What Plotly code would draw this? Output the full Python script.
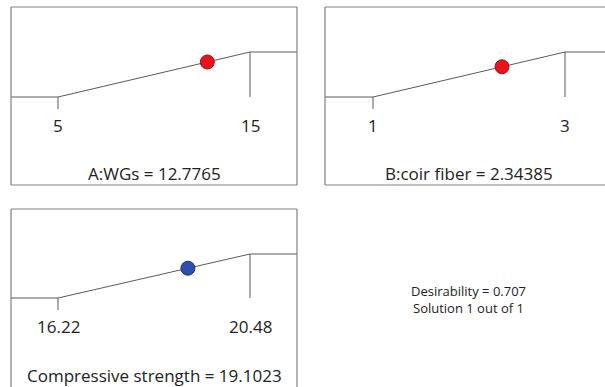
import plotly.graph_objects as go

# ---- data ----
names = ["A:WGs", "B:coir fiber", "Compressive strength"]
lows = [5, 1, 16.22]
highs = [15, 3, 20.48]
optima = [12.7765, 2.34385, 19.1023]
low_labels = ["5", "1", "16.22"]
high_labels = ["15", "3", "20.48"]
opt_labels = ["12.7765", "2.34385", "19.1023"]
dot_colors = ["#e8141c", "#e8141c", "#2f4fae"]
dot_edges = ["#a00d12", "#a00d12", "#1c2f78"]
desirability = "0.707"
solution_text = "Solution 1 out of 1"

W, H = 605, 387
FONT = "Open Sans"

# panel geometry in pixels: (left, right, top, bottom, low_px, high_px, zero_px, one_px)
geom = [
    (11, 297, 7, 185, 58, 250, 97, 52),
    (325, 605, 7, 185, 373, 565, 97, 52),
    (11, 297, 209, 387, 58, 250, 298, 254),
]
# which border sides to draw (top, bottom, left, right)
sides = [
    (True, True, True, True),
    (True, True, True, False),
    (True, False, True, True),
]

fig = go.Figure()
layout = dict(width=W, height=H, margin=dict(l=0, r=0, t=0, b=0),
              paper_bgcolor="white", plot_bgcolor="white", showlegend=False)
shapes = []
annotations = []
LINE = "#5a5a5a"
BOX = "#808080"
TXT = "#222222"

for i in range(3):
    L, R, T, B, lp, hp, zp, op = geom[i]
    lo, hi, opt = lows[i], highs[i], optima[i]
    upx = (hi - lo) / (hp - lp)          # units per pixel (x)
    dpy = 1.0 / (zp - op)                # desirability per pixel (y)
    xr = [lo - (lp - L) * upx, hi + (R - hp) * upx]
    yr = [-(B - zp) * dpy, (zp - T) * dpy]
    ax = "" if i == 0 else str(i + 1)
    xref, yref = "x" + ax, "y" + ax
    layout["xaxis" + ax] = dict(domain=[L / W, R / W], range=xr, visible=False,
                                fixedrange=True, anchor=yref)
    layout["yaxis" + ax] = dict(domain=[1 - B / H, 1 - T / H], range=yr, visible=False,
                                fixedrange=True, anchor=xref)

    d_opt = (opt - lo) / (hi - lo)
    # ramp
    fig.add_trace(go.Scatter(x=[xr[0], lo, hi, xr[1]], y=[0, 0, 1, 1], mode="lines",
                             line=dict(color=LINE, width=1), xaxis=xref, yaxis=yref,
                             hoverinfo="skip"))
    # tick under low and vertical at high
    fig.add_trace(go.Scatter(x=[lo, lo, None, hi, hi], y=[0, -12 * dpy, None, 1, 0],
                             mode="lines", line=dict(color=LINE, width=1),
                             xaxis=xref, yaxis=yref, hoverinfo="skip"))
    # optimum dot
    fig.add_trace(go.Scatter(x=[opt], y=[d_opt], mode="markers",
                             marker=dict(size=14, color=dot_colors[i],
                                         line=dict(color=dot_edges[i], width=1)),
                             xaxis=xref, yaxis=yref))
    # labels
    ylab = -((125 - 97) if i < 2 else (326 - 298)) * dpy
    for xv, txt in [(lo, low_labels[i]), (hi, high_labels[i])]:
        annotations.append(dict(x=xv, y=ylab, xref=xref, yref=yref, text=txt,
                                showarrow=False, font=dict(family=FONT, size=17, color=TXT),
                                xanchor="center", yanchor="middle"))
    ytitle = -((173 - 97) if i < 2 else (375 - 298)) * dpy
    annotations.append(dict(x=(lo + hi) / 2, y=ytitle, xref=xref, yref=yref,
                            text=f"{names[i]} = {opt_labels[i]}", showarrow=False,
                            font=dict(family=FONT, size=17, color=TXT),
                            xanchor="center", yanchor="middle"))
    # box
    st, sb, sl, sr = sides[i]
    dref = xref + " domain"
    yd = yref + " domain"
    bc = dict(color=BOX, width=1.2)
    if st:
        shapes.append(dict(type="line", xref=dref, yref=yd, x0=0, x1=1, y0=1, y1=1, line=bc))
    if sb:
        shapes.append(dict(type="line", xref=dref, yref=yd, x0=0, x1=1, y0=0, y1=0, line=bc))
    if sl:
        shapes.append(dict(type="line", xref=dref, yref=yd, x0=0, x1=0, y0=0, y1=1, line=bc))
    if sr:
        shapes.append(dict(type="line", xref=dref, yref=yd, x0=1, x1=1, y0=0, y1=1, line=bc))

annotations.append(dict(x=468 / W, y=1 - 291 / H, xref="paper", yref="paper",
                        text=f"Desirability = {desirability}", showarrow=False,
                        font=dict(family=FONT, size=13, color=TXT),
                        xanchor="center", yanchor="middle"))
annotations.append(dict(x=468 / W, y=1 - 308 / H, xref="paper", yref="paper",
                        text=solution_text, showarrow=False,
                        font=dict(family=FONT, size=13, color=TXT),
                        xanchor="center", yanchor="middle"))

layout["shapes"] = shapes
layout["annotations"] = annotations
fig.update_layout(**layout)
fig.write_html("out.html", config={"displayModeBar": False},
               post_script="document.body.style.margin='0';document.body.style.overflow='hidden';")
